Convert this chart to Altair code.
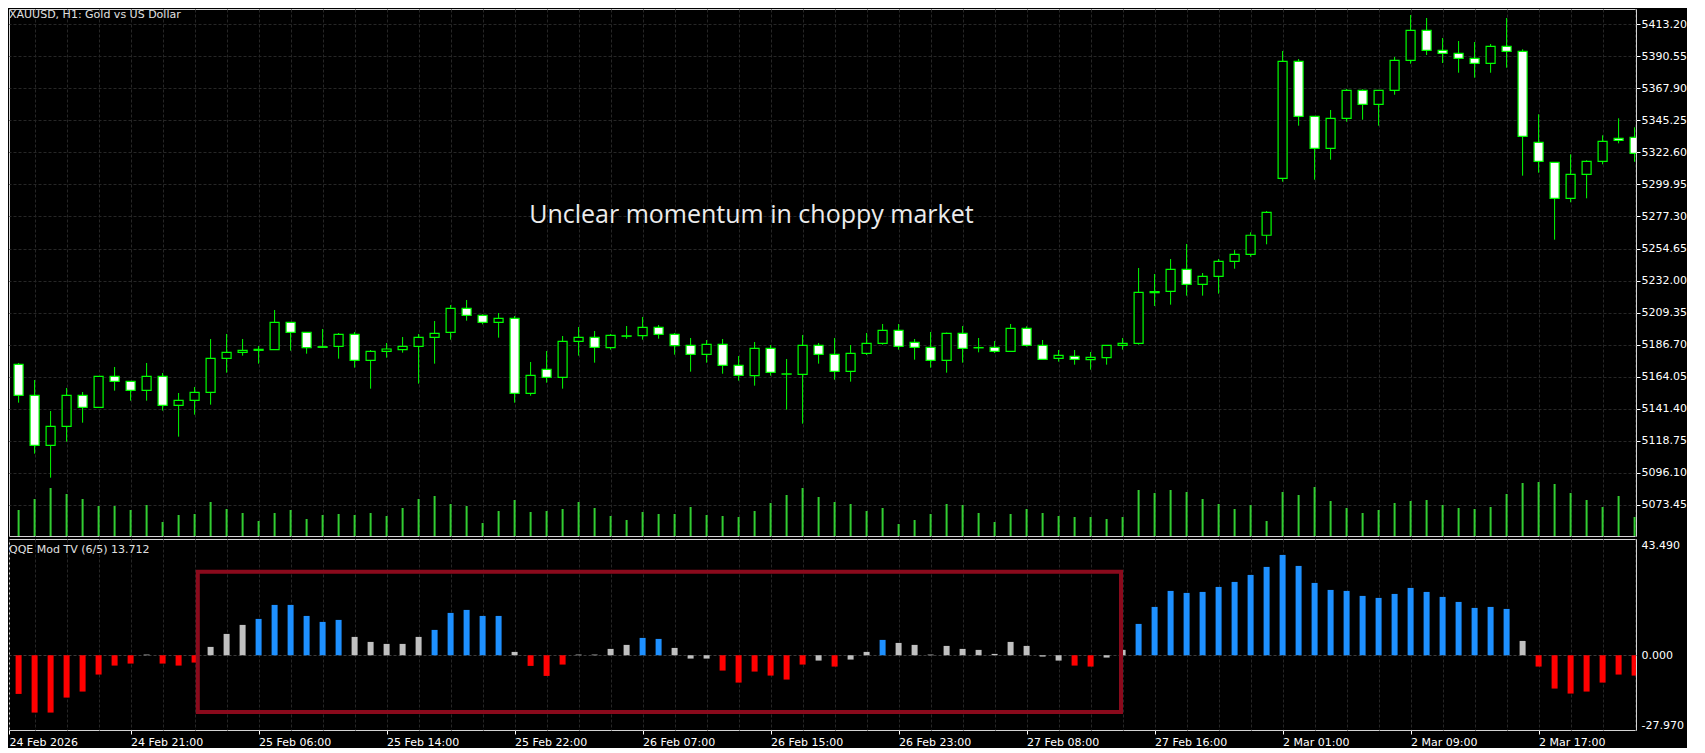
import json
import altair as alt
import numpy as np
import pandas as pd

# ---------------- data ----------------
OPEN = [5172.74, 5150.82, 5115.46, 5128.90, 5150.82, 5142.34, 5164.26, 5160.73, 5154.36, 5164.26,
        5143.75, 5147.29, 5152.94, 5176.98, 5181.23, 5182.64, 5183.11, 5202.45, 5195.37, 5185.20,
        5185.47, 5193.96, 5175.57, 5181.93, 5183.11, 5185.47, 5191.84, 5195.37, 5212.35, 5207.40,
        5202.45, 5205.27, 5152.24, 5169.21, 5163.55, 5189.01, 5191.84, 5184.53, 5192.60, 5193.02,
        5198.91, 5193.96, 5186.18, 5179.81, 5186.89, 5172.04, 5164.73, 5184.05, 5165.80, 5165.67,
        5186.18, 5179.81, 5167.79, 5180.52, 5187.59, 5196.79, 5188.30, 5184.76, 5175.57, 5194.67,
        5184.40, 5184.76, 5181.93, 5198.20, 5186.18, 5176.98, 5178.40, 5176.04, 5177.45, 5186.18,
        5187.59, 5223.40, 5224.37, 5239.93, 5229.32, 5234.98, 5245.58, 5250.56, 5264.03, 5304.30,
        5387.04, 5348.14, 5325.51, 5346.73, 5366.53, 5356.63, 5366.53, 5387.74, 5408.96, 5394.81,
        5392.69, 5389.15, 5385.62, 5397.64, 5394.11, 5329.75, 5315.62, 5290.15, 5307.13, 5316.32,
        5332.59, 5333.29]
HIGH = [5173.69, 5161.67, 5139.74, 5156.01, 5153.18, 5164.26, 5170.86, 5160.73, 5173.69, 5166.62,
        5152.47, 5156.72, 5190.66, 5194.20, 5190.66, 5185.71, 5211.17, 5202.45, 5195.37, 5197.73,
        5194.90, 5195.61, 5182.88, 5187.83, 5192.07, 5194.20, 5203.39, 5214.70, 5218.24, 5208.10,
        5209.05, 5206.92, 5174.39, 5182.17, 5192.78, 5199.14, 5196.32, 5194.20, 5199.85, 5206.22,
        5200.56, 5194.90, 5191.37, 5189.95, 5190.66, 5178.63, 5188.54, 5186.41, 5176.52, 5193.49,
        5187.83, 5191.37, 5186.41, 5194.90, 5201.27, 5201.27, 5190.66, 5195.61, 5195.20, 5199.85,
        5191.37, 5189.24, 5201.27, 5199.62, 5189.95, 5182.88, 5182.88, 5181.46, 5186.18, 5191.37,
        5240.87, 5236.62, 5247.23, 5257.84, 5237.33, 5247.23, 5253.50, 5266.11, 5281.17, 5394.32,
        5388.66, 5348.14, 5352.60, 5367.45, 5367.23, 5366.53, 5390.08, 5419.78, 5417.65, 5403.51,
        5401.39, 5400.68, 5399.27, 5417.65, 5395.52, 5349.56, 5315.62, 5321.27, 5317.03, 5334.71,
        5346.73, 5340.36]
LOW = [5145.64, 5109.57, 5092.60, 5118.06, 5131.49, 5142.34, 5154.12, 5147.05, 5147.05, 5139.98,
       5121.60, 5137.15, 5144.22, 5166.85, 5178.87, 5173.22, 5183.11, 5182.40, 5180.28, 5184.80,
       5176.75, 5170.39, 5155.54, 5177.45, 5180.99, 5159.07, 5173.22, 5190.19, 5203.62, 5201.03,
       5191.60, 5145.64, 5150.59, 5159.78, 5155.54, 5178.87, 5173.92, 5183.11, 5190.90, 5190.19,
       5190.90, 5179.58, 5167.56, 5173.92, 5166.14, 5161.20, 5157.66, 5164.73, 5140.69, 5130.79,
       5173.22, 5161.90, 5160.49, 5179.34, 5186.65, 5183.11, 5176.04, 5170.39, 5166.85, 5173.92,
       5181.23, 5180.75, 5181.93, 5185.23, 5176.28, 5174.63, 5172.51, 5168.97, 5172.51, 5183.11,
       5186.65, 5213.99, 5214.94, 5221.30, 5221.30, 5222.72, 5240.40, 5248.86, 5257.62, 5301.90,
       5341.50, 5303.31, 5317.45, 5344.32, 5345.74, 5341.50, 5363.42, 5385.34, 5391.49, 5385.83,
       5378.97, 5375.44, 5378.97, 5382.51, 5306.14, 5308.26, 5260.88, 5287.33, 5290.15, 5314.20,
       5329.05, 5316.00]
CLOSE = [5150.82, 5115.46, 5128.90, 5150.82, 5142.34, 5164.26, 5160.73, 5154.36, 5164.26, 5143.75,
         5147.29, 5152.94, 5176.98, 5181.23, 5182.64, 5183.35, 5202.45, 5195.37, 5184.53, 5184.80,
         5193.96, 5175.57, 5181.93, 5183.58, 5185.47, 5191.84, 5194.67, 5212.35, 5207.40, 5202.45,
         5205.27, 5152.24, 5164.97, 5163.55, 5189.01, 5191.84, 5184.76, 5193.25, 5192.90, 5198.91,
         5193.96, 5185.94, 5179.81, 5186.89, 5172.04, 5164.97, 5184.05, 5167.09, 5166.00, 5186.18,
         5179.81, 5167.79, 5180.52, 5187.59, 5196.79, 5185.47, 5184.76, 5175.57, 5194.67, 5184.05,
         5184.60, 5181.93, 5198.20, 5186.18, 5176.28, 5179.10, 5176.28, 5177.69, 5186.18, 5187.59,
         5223.66, 5224.20, 5239.93, 5229.32, 5234.98, 5245.58, 5250.53, 5264.03, 5280.25, 5387.04,
         5348.14, 5325.51, 5346.73, 5366.53, 5356.63, 5366.53, 5387.74, 5408.96, 5394.81, 5392.69,
         5389.15, 5385.62, 5397.64, 5394.11, 5334.00, 5316.32, 5290.15, 5307.13, 5316.32, 5330.46,
         5331.17, 5321.98]
VOLUME = [26, 37, 48, 42, 37, 30, 30, 26, 31, 14, 21, 22, 34, 27, 23, 15, 23, 26, 17, 21,
          22, 21, 23, 20, 28, 37, 40, 32, 30, 13, 25, 36, 24, 25, 27, 34, 28, 20, 16, 24,
          22, 22, 29, 21, 20, 19, 25, 33, 41, 48, 39, 34, 32, 25, 28, 12, 16, 22, 32, 31,
          23, 14, 22, 27, 23, 20, 19, 19, 17, 19, 46, 43, 46, 44, 37, 32, 27, 31, 15, 44,
          41, 49, 35, 28, 23, 26, 33, 35, 36, 31, 28, 27, 29, 42, 53, 54, 52, 43, 36, 29,
          40, 19]
QQE = [-14.47, -21.45, -21.45, -15.84, -13.59, -7.23, -3.87, -3.12, 0.25, -3.12,
       -3.87, -2.74, 3.12, 7.98, 11.35, 13.59, 18.83, 18.83, 14.71, 12.47,
       13.22, 6.86, 4.99, 4.24, 4.24, 6.86, 9.48, 15.84, 16.96, 14.71,
       14.71, 1.25, -3.99, -7.73, -3.49, 0.25, 0.25, 2.37, 3.87, 6.48,
       6.11, 2.74, -1.25, -1.25, -5.74, -10.23, -6.11, -7.61, -9.10, -3.49,
       -2.00, -4.24, -1.62, 1.25, 5.74, 4.61, 3.87, 0.25, 3.49, 2.37,
       2.00, 0.50, 4.99, 3.49, -0.50, -2.00, -3.87, -4.24, -0.87, 2.00,
       11.72, 18.08, 24.07, 23.32, 23.69, 25.56, 27.43, 30.05, 33.05, 37.53,
       33.42, 27.06, 24.44, 24.07, 22.20, 21.45, 22.94, 25.19, 23.69, 21.82,
       19.95, 17.71, 18.08, 17.33, 5.36, -4.24, -12.47, -14.34, -13.59, -10.23,
       -7.23, -7.61]
QQE_STATE = (["down"] * 8 + ["flat"] + ["down"] * 3 + ["flat"] * 3 + ["up"] * 6 + ["flat"] * 5
             + ["up"] * 5 + ["flat"] + ["down"] * 3 + ["flat"] * 4 + ["up"] * 2 + ["flat"] * 3
             + ["down"] * 6 + ["flat"] + ["down"] + ["flat"] * 2 + ["up"] + ["flat"] * 11
             + ["down"] * 2 + ["flat"] * 2 + ["up"] * 24 + ["flat"] + ["down"] * 7)

PRICE_TICKS = [5073.45, 5096.10, 5118.75, 5141.40, 5164.05, 5186.70, 5209.35, 5232.00,
               5254.65, 5277.30, 5299.95, 5322.60, 5345.25, 5367.90, 5390.55, 5413.20]
QQE_TICKS = [-27.97, 0.0, 43.49]
TIME_TICK_BARS = [7, 15, 23, 31, 39, 47, 55, 63, 71, 79, 87, 95]
TIME_TICK_LABELS = ["24 Feb 21:00", "25 Feb 06:00", "25 Feb 14:00", "25 Feb 22:00",
                    "26 Feb 07:00", "26 Feb 15:00", "26 Feb 23:00", "27 Feb 08:00",
                    "27 Feb 16:00", "2 Mar 01:00", "2 Mar 09:00", "2 Mar 17:00"]
FIRST_LABEL = "24 Feb 2026"

TITLE_MAIN = "XAUUSD, H1:  Gold vs US Dollar"
TITLE_IND = "QQE Mod TV (6/5) 13.712"
NOTE_TEXT = ["Unclear momentum in choppy market"]
NOTE_BAR = [45.8]
NOTE_PRICE = [5272.9]
BOX_BARS = [11.2, 68.9]
BOX_QQE = [-21.23, 31.26]

# ---------------- layout constants ----------------
X_DOMAIN = [-0.6, 101.0875]
PRICE_DOMAIN = [5051.35, 5424.02]
VOL_DOMAIN = [0, 527]
QQE_DOMAIN = [-27.97, 43.49]
W = 1627
H_MAIN = 527
H_IND = 191
GRID = "#262626"
LABEL_FONT = "DejaVu Sans"

n = len(OPEN)
df = pd.DataFrame({
    "bar": np.arange(n),
    "open": OPEN, "high": HIGH, "low": LOW, "close": CLOSE,
    "volume": VOLUME, "qqe": QQE, "state": QQE_STATE,
})
df["dir"] = np.where(df["close"] >= df["open"], "bull", "bear")

odd_bars = list(range(1, 102, 2))
xscale = alt.Scale(domain=X_DOMAIN, nice=False, zero=False, padding=0)

x_top = alt.X("bar:Q", scale=xscale,
              axis=alt.Axis(values=odd_bars, grid=True, gridColor=GRID, gridDash=[3, 2],
                            labels=False, ticks=False, domain=False, title=None,
                            minExtent=0, maxExtent=0))

label_keys = [X_DOMAIN[0]] + TIME_TICK_BARS
label_vals = [FIRST_LABEL] + TIME_TICK_LABELS
kj = json.dumps(label_keys)
label_expr = "indexof(%s, datum.value) >= 0 ? %s[indexof(%s, datum.value)] : ''" % (
    kj, json.dumps(label_vals), kj)
tick_test = "indexof(%s, datum.value) >= 0" % json.dumps(label_keys)

x_axis_bottom = alt.Axis(values=[X_DOMAIN[0]] + odd_bars, grid=True, gridColor=GRID,
                         gridDash=[3, 2], labelExpr=label_expr, labelAlign="left",
                         labelFlush=False, labelOverlap=False, labelBound=False,
                         labelPadding=2, tickSize=4, tickColor="#ffffff",
                         tickOpacity={"condition": {"test": tick_test, "value": 1}, "value": 0},
                         domain=False, title=None, labelColor="#ffffff",
                         labelFont=LABEL_FONT, labelFontSize=11)
x_bot = alt.X("bar:Q", scale=xscale, axis=x_axis_bottom)

price_scale = alt.Scale(domain=PRICE_DOMAIN, nice=False, zero=False, padding=0)
price_axis = alt.Axis(orient="right", values=PRICE_TICKS, format=".2f", grid=True,
                      gridColor=GRID, gridDash=[3, 2], tickSize=4, tickColor="#ffffff",
                      labelPadding=1, labelFlush=False, domain=False, title=None,
                      labelColor="#ffffff", labelFont=LABEL_FONT, labelFontSize=11)

base = alt.Chart(df)

volume = base.mark_bar(width=2, color="#32CD32", clip=True).encode(
    x=x_top,
    y=alt.Y("volume:Q", scale=alt.Scale(domain=VOL_DOMAIN, nice=False, padding=0), axis=None),
)

wicks = base.mark_rule(color="#00FF00", strokeWidth=1, clip=True).encode(
    x=x_top,
    y=alt.Y("low:Q", scale=price_scale, axis=price_axis),
    y2="high:Q",
)

bodies = base.mark_bar(width=9, stroke="#00FF00", strokeWidth=1.2, clip=True).encode(
    x=x_top,
    y=alt.Y("open:Q", scale=price_scale, axis=price_axis),
    y2="close:Q",
    color=alt.Color("dir:N", scale=alt.Scale(domain=["bull", "bear"],
                                             range=["#000000", "#ffffff"]), legend=None),
)

note_df = pd.DataFrame({"bar": NOTE_BAR, "price": NOTE_PRICE, "text": NOTE_TEXT})
note = alt.Chart(note_df).mark_text(font="Open Sans", fontSize=25, color="#ececec",
                                    align="center", baseline="alphabetic").encode(
    x=x_top,
    y=alt.Y("price:Q", scale=price_scale, axis=price_axis),
    text="text:N",
)

title_main = alt.Chart(pd.DataFrame({"t": [TITLE_MAIN]})).mark_text(
    font=LABEL_FONT, fontSize=11, color="#e0e0e0", align="left", baseline="alphabetic"
).encode(x=alt.value(0), y=alt.value(8.5), text="t:N")

price_layer = alt.layer(wicks, bodies, note, title_main)
top = alt.layer(volume, price_layer).resolve_scale(y="independent").properties(
    width=W, height=H_MAIN)

qqe_scale = alt.Scale(domain=QQE_DOMAIN, nice=False, zero=False, padding=0)
qqe_label_expr = "replace(format(datum.value, '.3f'), '\u2212', '-')"
qqe_axis = alt.Axis(orient="right", values=QQE_TICKS, labelExpr=qqe_label_expr, grid=True,
                    gridColor="#3a3a3a", gridDash=[3, 2],
                    gridOpacity={"condition": {"test": "datum.value === 0", "value": 1},
                                 "value": 0},
                    ticks=False, labelPadding=5, labelFlush=True, labelFlushOffset=0,
                    domain=False, title=None, labelColor="#ffffff",
                    labelFont=LABEL_FONT, labelFontSize=11)

qqe_bars = base.mark_bar(width=6, clip=True).encode(
    x=x_bot,
    y=alt.Y("qqe:Q", scale=qqe_scale, axis=qqe_axis),
    color=alt.Color("state:N", scale=alt.Scale(domain=["up", "flat", "down"],
                                               range=["#1E90FF", "#C0C0C0", "#FF0000"]),
                    legend=None),
)

box_df = pd.DataFrame({"x1": [BOX_BARS[0]], "x2": [BOX_BARS[1]],
                       "y1": [BOX_QQE[0]], "y2": [BOX_QQE[1]]})
box = alt.Chart(box_df).mark_rect(fillOpacity=0, stroke="#8A0A1C", strokeWidth=4).encode(
    x=alt.X("x1:Q", scale=xscale, axis=x_axis_bottom),
    x2="x2:Q",
    y=alt.Y("y1:Q", scale=qqe_scale, axis=qqe_axis),
    y2="y2:Q",
)

title_ind = alt.Chart(pd.DataFrame({"t": [TITLE_IND]})).mark_text(
    font=LABEL_FONT, fontSize=11, color="#e0e0e0", align="left", baseline="alphabetic"
).encode(x=alt.value(0), y=alt.value(14), text="t:N")

bottom = alt.layer(qqe_bars, box, title_ind).properties(width=W, height=H_IND)

chart = alt.vconcat(top, bottom, spacing=3, bounds="flush").resolve_scale(
    color="independent"
).properties(
    background="#000000", padding=0
).configure_view(stroke="#d4d4d4", strokeWidth=1)

chart.save("out.html", embed_options={"renderer": "svg", "actions": False})
